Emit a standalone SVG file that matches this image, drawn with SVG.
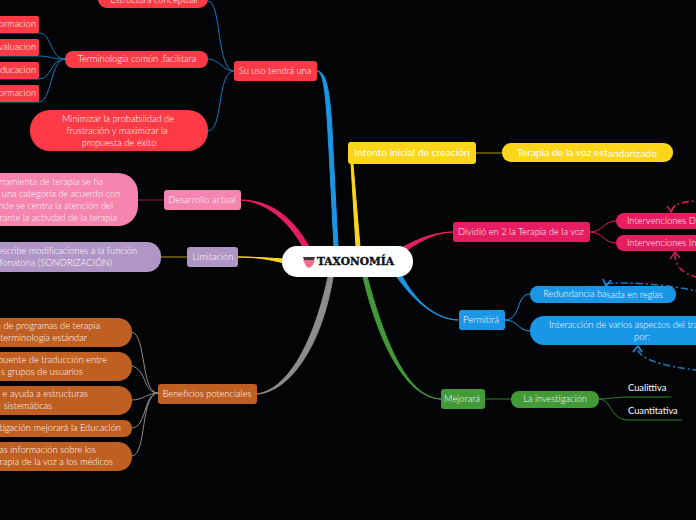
<svg xmlns="http://www.w3.org/2000/svg" width="696" height="520" viewBox="0 0 696 520">
<style>
text{font-family:"Lato","Noto Sans","Liberation Sans",sans-serif;font-size:9.3px;font-weight:300;fill:#fff;text-anchor:middle}
text.e{text-anchor:end}
text.s{text-anchor:start}
text.y{font-size:10.3px;font-weight:400}
text.i{font-size:9.4px}
.c{fill:none;stroke-linecap:round}
.t{stroke-width:1;stroke-linejoin:round}
.d{fill:none;stroke-width:1.6;stroke-dasharray:7 3 2 3}
.a{fill:none;stroke-width:1.5}
.red{fill:#fd3a45}.pink{fill:#f584ae}.pur{fill:#b096c6}.org{fill:#c05f22}.yel{fill:#fdd51b}.mag{fill:#e61d63}.blu{fill:#1a96e7}.grn{fill:#439a39}
</style>
<rect width="696" height="520" fill="#030406"/>
<g id="connectors">
<path class="t" d="M317 71C324 72 326 95 329 150L334 247H338L333 150C331 95 327 71 317 71Z" fill="#1a96e7" stroke="#1a96e7"/>
<path d="M208 1C222 1 216 71 234 71M208 59C220 59 222 71 234 71M208 131C224 131 216 71 234 71" class="c" stroke="#1679bb" stroke-width="1"/>
<path d="M0 33H39C52 33 50 59 65 59M0 56H39C48 56 52 59 65 59M0 79H39C52 79 50 59 65 59M0 102H39C52 102 50 59 65 59" class="c" stroke="#1679bb" stroke-width="1"/>
<path class="t" d="M241 200C266 202 288 220 303 247H309C294 218 270 200 241 200Z" fill="#e61d63" stroke="#e61d63"/>
<path d="M138 200H164" class="c" stroke="#a01a50" stroke-width="1"/>
<path class="t" d="M238 257C255 257 268 259 284 263V259C268 258 255 257 238 257Z" fill="#fdd51b" stroke="#fdd51b"/>
<path d="M161 257H188" class="c" stroke="#b39a12" stroke-width="1"/>
<path class="t" d="M257 394C285 390 312 350 328 277H333C322 345 290 392 257 394Z" fill="#8d8d8d" stroke="#8d8d8d"/>
<path d="M132 332C147 335 140 393 158 393M132 366C148 370 142 393 158 393M132 400C143 400 148 393 158 393M132 428C147 428 143 393 158 393M132 456C147 456 140 393 158 393" class="c" stroke="#8d8d8d" stroke-width="1"/>
<path class="t" d="M351 164L356 247H360L353 164Z" fill="#fdd51b" stroke="#fdd51b"/>
<path d="M476 153H502" class="c" stroke="#b39a12" stroke-width="1"/>
<path class="t" d="M403 247C420 238 435 232 454 232C437 232 422 240 407 250Z" fill="#e61d63" stroke="#e61d63"/>
<path d="M590 232C603 232 603 221 616 221M590 232C603 232 603 243 616 243" class="c" stroke="#e61d63" stroke-width="1"/>
<path class="t" d="M397 277C415 302 435 319 458 320C436 319 416 302 402 276Z" fill="#1a96e7" stroke="#1a96e7"/>
<path d="M505 320C522 320 515 294 530 294M505 320C518 320 518 331 530 331" class="c" stroke="#1a96e7" stroke-width="1"/>
<path class="t" d="M363 277C378 340 405 398 441 399C407 398 384 340 367 276Z" fill="#439a39" stroke="#439a39"/>
<path d="M485 399H511" class="c" stroke="#357f2c" stroke-width="1"/>
<path d="M599 399C610 399 615 397 628 397H671M599 399C612 399 610 420 628 420H682" class="c" stroke="#357f2c" stroke-width="1"/>
<path d="M671 212C672 206 678 202 696 201" class="d" stroke="#d01a5c"/>
<path d="M667 206L671 212L675 205" class="a" stroke="#d01a5c"/>
<path d="M675 253C675 265 680 272 696 277" class="d" stroke="#d01a5c"/>
<path d="M670 259L675 252L680 258" class="a" stroke="#d01a5c"/>
<path d="M606 284C620 281 673 285 696 291" class="d" stroke="#1679bb"/>
<path d="M603 279L606 286L611 280" class="a" stroke="#1a96e7"/>
<path d="M638 350C640 358 660 366 696 370" class="d" stroke="#1679bb"/>
<path d="M633 352L638 346L642 352" class="a" stroke="#1a96e7"/>
</g>
<g id="n-central"><rect x="282" y="246" width="131" height="31" rx="15" fill="#fff"/><path d="M303 260H315L313 265Q309 270 306 266Z" fill="#f0708a"/><path d="M303 257H315L314 260H304Z" fill="#3a3a3a"/><text x="355.500" y="265" textLength="77" lengthAdjust="spacingAndGlyphs" style="font-family:'DejaVu Serif','Liberation Serif',serif;font-size:11.500px;font-weight:bold;fill:#111;stroke:#111;stroke-width:.4">TAXONOMÍA</text></g>
<g id="n-su-uso"><rect class="red" x="234" y="61" width="83" height="20" rx="3"/><text x="275" y="74">Su uso tendrá una</text></g>
<g id="n-estructura"><rect class="red" x="98" y="-10" width="110" height="18" rx="9"/><text x="154" y="3">Estructura conceptual</text></g>
<g id="n-terminologia"><rect class="red" x="65" y="51" width="143" height="17" rx="8"/><text x="137" y="62">Terminología común ,facilitara</text></g>
<g id="n-t1"><rect class="red" x="-20" y="16" width="59" height="17" rx="2"/><text class="e" x="36" y="27">ormacion</text></g>
<g id="n-t2"><rect class="red" x="-20" y="39" width="59" height="17" rx="2"/><text class="e" x="36" y="50">valuacion</text></g>
<g id="n-t3"><rect class="red" x="-20" y="62" width="59" height="17" rx="2"/><text class="e" x="36" y="73">ducacion</text></g>
<g id="n-t4"><rect class="red" x="-20" y="85" width="59" height="17" rx="2"/><text class="e" x="36" y="96">ormacion</text></g>
<g id="n-minimizar"><rect class="red" x="30" y="110" width="178" height="41" rx="20"/><text x="118" y="122">Minimizar la probabilidad de</text><text x="117" y="134">frustración y maximizar la</text><text x="119" y="146">propuesta de éxito</text></g>
<g id="n-desarrollo"><rect class="pink" x="164" y="190" width="77" height="20" rx="3"/><text x="202" y="203">Desarrollo actual</text></g>
<g id="n-herramienta"><rect class="pink" x="-60" y="173" width="198" height="53" rx="20"/><text class="e" x="103" y="185">rramienta de terapia se ha</text><text class="e" x="120" y="197">una categoría de acuerdo con</text><text class="e" x="113" y="209">nde se centra la atención del</text><text class="e" x="117" y="221">rante la activdad de la terapia</text></g>
<g id="n-limitacion"><rect class="pur" x="187" y="247" width="51" height="20" rx="3"/><text x="213" y="260">Limitación</text></g>
<g id="n-describe"><rect class="pur" x="-60" y="242" width="221" height="30" rx="14"/><text class="e" x="137" y="254">escribe modificaciones a la función</text><text class="e" x="112" y="266">fonatoria (SONORIZACIÓN)</text></g>
<g id="n-beneficios"><rect class="org" x="158" y="384" width="99" height="20" rx="3"/><text x="207" y="397">Beneficios potenciales</text></g>
<g id="n-b1"><rect class="org" x="-60" y="318" width="192" height="29" rx="14"/><text class="e" x="100" y="329">a de programas de terapia</text><text class="e" x="87" y="341">terminología estándar</text></g>
<g id="n-b2"><rect class="org" x="-60" y="352" width="192" height="29" rx="14"/><text class="e" x="107" y="363">puente de traducción entre</text><text class="e" x="83" y="375">s grupos de usuarios</text></g>
<g id="n-b3"><rect class="org" x="-60" y="386" width="192" height="29" rx="14"/><text class="e" x="88" y="397">e ayuda a estructuras</text><text class="e" x="52" y="409">sistemáticas</text></g>
<g id="n-b4"><rect class="org" x="-60" y="420" width="192" height="17" rx="8"/><text class="e" x="121" y="431">tigación mejorará la Educación</text></g>
<g id="n-b5"><rect class="org" x="-60" y="442" width="192" height="29" rx="14"/><text class="e" x="96" y="453">as información sobre los</text><text class="e" x="113" y="465">rapia de la voz a los médicos</text></g>
<g id="n-intento"><rect class="yel" x="348" y="142" width="128" height="22" rx="3"/><text class="y" x="412" y="156">Intento inicial de creación</text></g>
<g id="n-terapia"><rect class="yel" x="502" y="143" width="171" height="19" rx="9"/><text class="y" x="587" y="156">Terapia de la voz est<tspan dy="1">andarizado</tspan></text></g>
<g id="n-dividio"><rect class="mag" x="453" y="222" width="137" height="20" rx="3"/><text x="521" y="235">Dividió en 2 la Terapia de la voz</text></g>
<g id="n-directas"><rect class="mag" x="616" y="213" width="100" height="16" rx="8"/><text class="s i" x="627" y="224">Intervenciones Di</text></g>
<g id="n-indirectas"><rect class="mag" x="616" y="235" width="100" height="16" rx="8"/><text class="s i" x="627" y="246">Intervenciones In</text></g>
<g id="n-permitira"><rect class="blu" x="459" y="310" width="46" height="20" rx="3"/><text x="481" y="323">Permitirá</text></g>
<g id="n-redundancia"><rect class="blu" x="530" y="286" width="146" height="17" rx="8"/><text x="603" y="297">Redundancia ba<tspan dy="1">sada en reglas</tspan></text></g>
<g id="n-interaccion"><rect class="blu" x="530" y="316" width="200" height="29" rx="14"/><text class="s i" x="549" y="328">Interacción de varios aspectos del tra</text><text x="642" y="340">por:</text></g>
<g id="n-mejorara"><rect class="grn" x="441" y="389" width="44" height="20" rx="3"/><text x="462" y="402">Mejorará</text></g>
<g id="n-investigacion"><rect class="grn" x="511" y="391" width="88" height="17" rx="8"/><text x="555" y="402">La investigación</text></g>
<g id="n-cualitativa"><text class="s" x="628" y="391" style="font-weight:400">Cualittiva</text></g>
<g id="n-cuantitativa"><text class="s" x="628" y="414" style="font-weight:400">Cuantitativa</text></g>
</svg>
